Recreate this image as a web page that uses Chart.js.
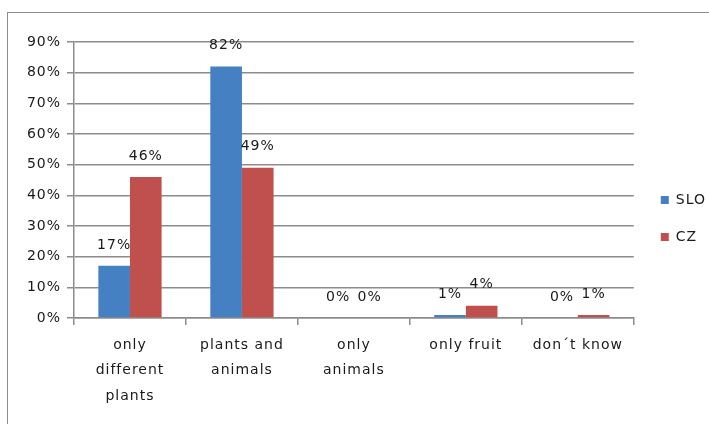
<!DOCTYPE html>
<html>
<head>
<meta charset="utf-8">
<script src="https://cdn.jsdelivr.net/npm/chart.js@4.4.1/dist/chart.umd.min.js"></script>
<style>
  html, body { margin: 0; padding: 0; background: #fff; overflow: hidden; }
  #moldura { position: absolute; left: 7px; top: 12px; width: 760px; height: 440px; border: 1px solid #8c8c8c; }
  #grafico { position: absolute; left: 0; top: 0; }
</style>
</head>
<body>
<div id="moldura"><canvas id="grafico" width="704" height="411"></canvas></div>
<script>
const categorias = [['only', 'different', 'plants'], ['plants and', 'animals'], ['only', 'animals'], 'only fruit', 'don´t know'];
const valoresSLO = [17, 82, 0, 1, 0];
const valoresCZ = [46, 49, 0, 4, 1];
const escalaY = { min: 0, max: 90, passo: 10 };

const fonte = '"DejaVu Sans", sans-serif';
const corTexto = '#1a1a1a';

// canvas text is a bit spread out, like the old office charts
const espacamento = {
  id: 'espacamento',
  beforeUpdate(chart) { chart.ctx.letterSpacing = '1px'; },
  beforeDraw(chart) { chart.ctx.letterSpacing = '1px'; }
};

// legend centred on the whole canvas height, not under the top padding
const legendaAjuste = {
  id: 'legendaAjuste',
  afterLayout(chart) {
    chart.legend.top = 0;
    chart.legend.left += 4;
  }
};

// percentage above every bar
const rotulos = {
  id: 'rotulos',
  afterDatasetsDraw(chart) {
    const ctx = chart.ctx;
    ctx.save();
    ctx.font = '14px ' + fonte;
    ctx.fillStyle = corTexto;
    ctx.textAlign = 'center';
    ctx.textBaseline = 'middle';
    chart.data.datasets.forEach((ds, i) => {
      chart.getDatasetMeta(i).data.forEach((barra, j) => {
        ctx.fillText(ds.data[j] + '%', barra.x, barra.y - 21);
      });
    });
    ctx.restore();
  }
};

const grafico = document.getElementById('grafico');

new Chart(grafico, {
  type: 'bar',
  data: {
    labels: categorias,
    datasets: [{
      label: 'SLO',
      data: valoresSLO,
      backgroundColor: '#4581c2',
      categoryPercentage: 0.565,
      barPercentage: 1
    },
    {
      label: 'CZ',
      data: valoresCZ,
      backgroundColor: '#c0504d',
      categoryPercentage: 0.565,
      barPercentage: 1
    }]
  },
  options: {
    responsive: false,
    animation: false,
    layout: { padding: { top: 29 } },
    plugins: {
      tooltip: { enabled: false },
      legend: {
        position: 'right',
        labels: {
          boxWidth: 8,
          boxHeight: 8,
          padding: 23,
          color: corTexto,
          font: { family: fonte, size: 14 }
        }
      }
    },
    scales: {
      x: {
        afterFit(scale) { scale.height = 106; },
        grid: { drawOnChartArea: false, tickLength: 7, color: '#8c8c8c', lineWidth: 1.5 },
        border: { color: '#8c8c8c', width: 1.5 },
        ticks: {
          color: corTexto,
          padding: 8,
          maxRotation: 0,
          autoSkip: false,
          font: { family: fonte, size: 14, lineHeight: 1.8 }
        }
      },
      y: {
        min: escalaY.min,
        max: escalaY.max,
        afterFit(scale) { scale.width = 66; },
        grid: { color: '#8c8c8c', lineWidth: 1.5, tickLength: 7 },
        border: { color: '#8c8c8c', width: 1.5 },
        ticks: {
          stepSize: escalaY.passo,
          color: corTexto,
          padding: 6,
          font: { family: fonte, size: 14 },
          callback: v => v + '%'
        }
      }
    }
  },
  plugins: [espacamento, legendaAjuste, rotulos]
});
</script>
</body>
</html>
